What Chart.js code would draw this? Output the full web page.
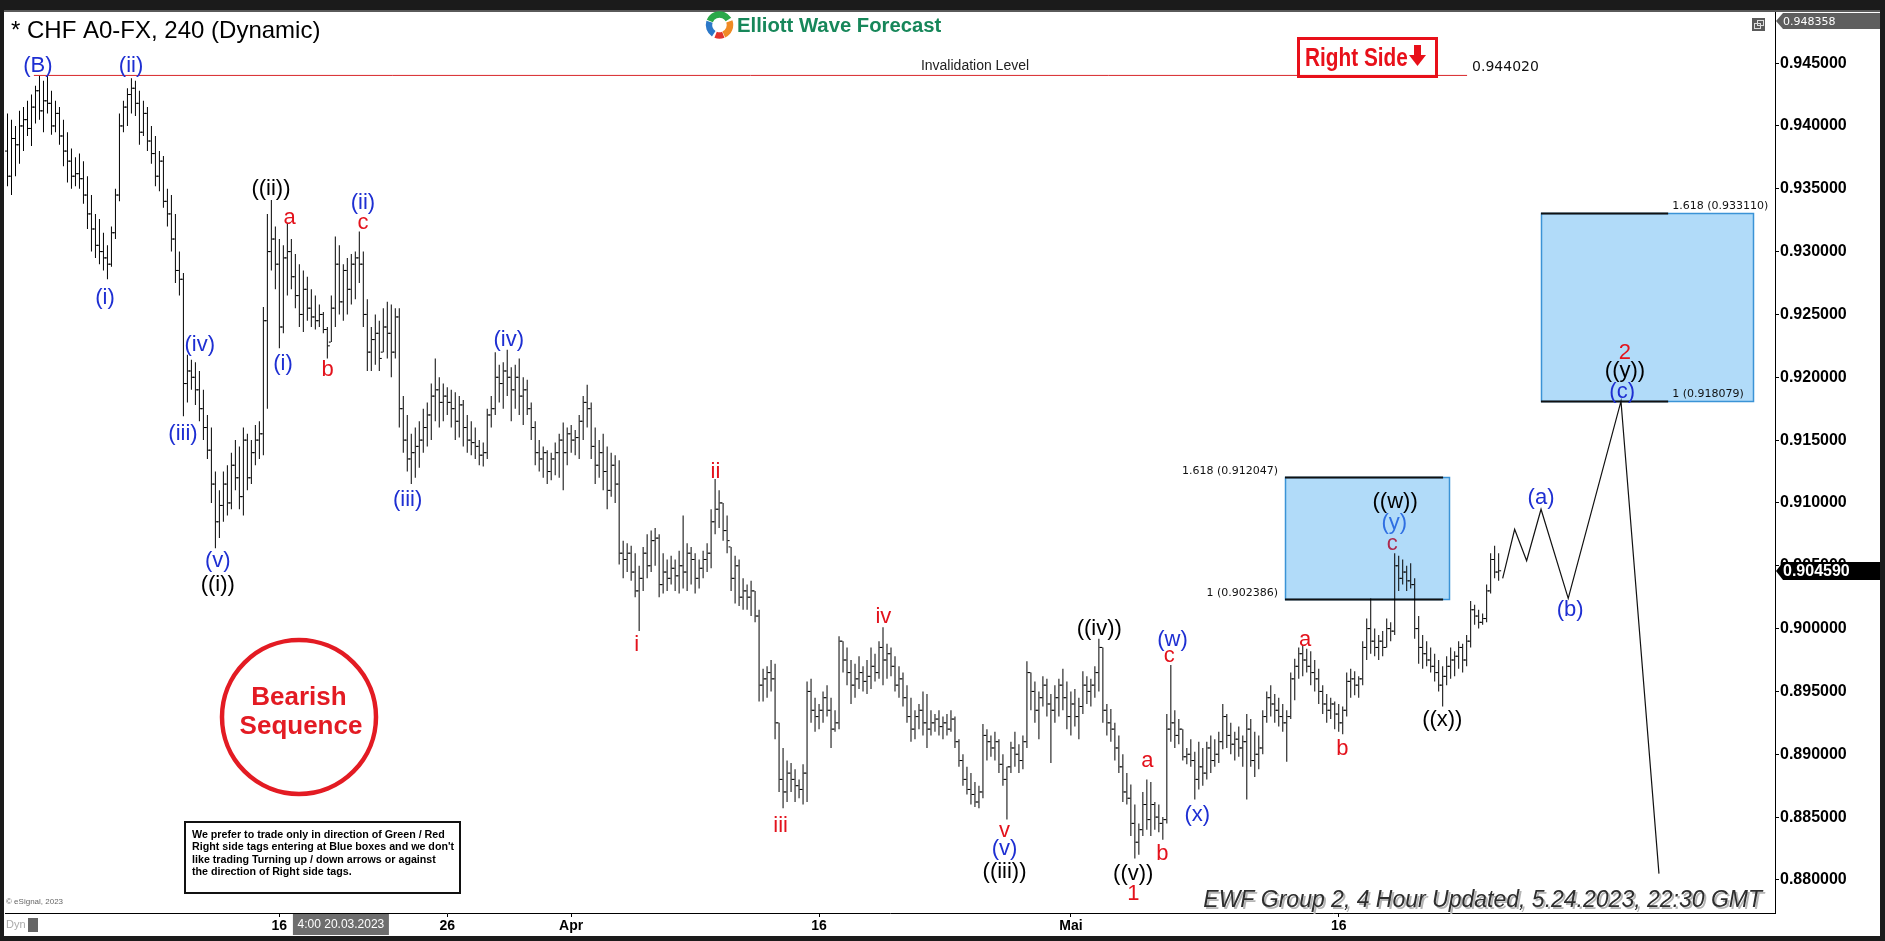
<!DOCTYPE html>
<html>
<head>
<meta charset="utf-8">
<script src="https://cdn.jsdelivr.net/npm/chart.js@4.4.0/dist/chart.umd.min.js"></script>
<style>
html, body { margin: 0; padding: 0; background: #1b1b1b; overflow: hidden; }
canvas { display: block; }
</style>
</head>
<body>
<canvas id="cs" width="1885" height="941"></canvas>
<script>
// 4 hour bars, prices in 1/10000 (9412 = 0.9412)
var highs = [
  9410,9405,9400,9412,9415,9420,9425,9432,9440,9436,
  9440,9428,9420,9415,9405,9395,9382,9375,9378,9372,
  9360,9345,9330,9326,9315,9305,9320,9350,9410,9420,
  9430,9438,9436,9428,9420,9415,9400,9392,9380,9376,
  9350,9345,9330,9300,9283,9218,9214,9212,9205,9190,
  9170,9160,9125,9110,9125,9130,9140,9150,9145,9160,
  9155,9150,9162,9165,9256,9330,9341,9320,9310,9305,
  9323,9310,9298,9290,9285,9280,9270,9265,9258,9252,
  9240,9265,9312,9305,9290,9295,9298,9300,9316,9300,
  9262,9240,9250,9245,9255,9260,9258,9255,9255,9185,
  9170,9155,9160,9165,9175,9180,9195,9215,9200,9195,
  9192,9190,9188,9185,9182,9170,9165,9160,9150,9148,
  9175,9185,9220,9210,9212,9222,9208,9210,9215,9200,
  9198,9180,9165,9150,9145,9142,9140,9148,9155,9164,
  9160,9162,9158,9170,9185,9194,9180,9160,9150,9155,
  9145,9140,9138,9134,9070,9068,9066,9060,9050,9065,
  9075,9078,9080,9075,9060,9055,9058,9055,9062,9090,
  9068,9065,9060,9055,9062,9068,9095,9119,9110,9100,
  9090,9065,9058,9055,9040,9035,9038,9030,9015,8968,
  8970,8975,8972,8925,8905,8895,8893,8888,8880,8892,
  8958,8960,8945,8940,8950,8955,8945,8935,8994,8990,
  8985,8975,8972,8978,8970,8975,8985,8980,8990,9001,
  8988,8985,8978,8970,8965,8955,8945,8935,8940,8950,
  8948,8935,8932,8935,8930,8932,8935,8930,8912,8900,
  8890,8885,8878,8875,8924,8920,8915,8918,8912,8900,
  8890,8910,8918,8908,8915,8974,8965,8958,8950,8962,
  8960,8948,8955,8960,8968,8958,8950,8952,8945,8966,
  8962,8960,8970,8992,8985,8940,8936,8925,8915,8900,
  8885,8876,8860,8845,8870,8880,8878,8862,8860,8850,
  8932,8971,8935,8928,8920,8905,8912,8902,8910,8905,
  8910,8915,8912,8918,8940,8932,8925,8918,8922,8915,
  8932,8928,8918,8915,8935,8950,8955,8948,8945,8940,
  8935,8965,8976,8985,8987,8984,8982,8975,8968,8955,
  8948,8945,8942,8940,8938,8965,8968,8966,8962,8990,
  9008,9024,9000,8995,8998,9008,9005,9060,9058,9055,
  9050,9052,9040,9010,8995,8990,8985,8980,8975,8970,
  8978,8985,8982,8990,8988,8995,9022,9019,9015,9012,
  9035,9060,9066,9060
];
var lows = [
  9352,9345,9360,9370,9380,9392,9384,9402,9405,9395,
  9410,9393,9395,9385,9368,9355,9350,9352,9350,9338,
  9318,9300,9295,9290,9285,9278,9288,9310,9340,9395,
  9400,9410,9408,9385,9392,9380,9370,9352,9348,9335,
  9320,9300,9275,9265,9169,9180,9190,9178,9165,9150,
  9135,9100,9064,9072,9085,9090,9095,9110,9095,9090,
  9110,9115,9130,9135,9138,9175,9285,9270,9223,9235,
  9265,9270,9255,9240,9236,9245,9240,9238,9240,9235,
  9215,9228,9240,9250,9245,9250,9258,9262,9275,9240,
  9205,9205,9210,9205,9220,9215,9200,9215,9160,9140,
  9125,9115,9120,9128,9140,9145,9150,9165,9160,9165,
  9170,9160,9150,9152,9145,9140,9138,9135,9130,9129,
  9135,9160,9170,9180,9175,9185,9165,9175,9170,9162,
  9170,9150,9130,9125,9120,9115,9118,9122,9120,9110,
  9130,9140,9138,9135,9150,9160,9135,9115,9120,9110,
  9095,9105,9100,9051,9040,9045,9038,9025,8998,9030,
  9040,9045,9050,9025,9028,9030,9035,9030,9028,9032,
  9030,9035,9028,9032,9040,9045,9048,9075,9080,9070,
  9060,9030,9020,9018,9015,9015,9010,9005,8942,8942,
  8945,8950,8912,8870,8857,8862,8870,8862,8865,8860,
  8862,8925,8918,8920,8925,8930,8905,8918,8920,8965,
  8955,8940,8945,8952,8950,8948,8952,8958,8960,8955,
  8960,8962,8950,8945,8938,8925,8910,8912,8920,8915,
  8905,8915,8918,8915,8912,8915,8918,8905,8890,8875,
  8868,8860,8858,8857,8865,8895,8898,8895,8885,8875,
  8848,8885,8890,8885,8888,8905,8935,8925,8912,8938,
  8930,8893,8925,8930,8935,8920,8915,8922,8912,8932,
  8940,8938,8945,8950,8925,8915,8910,8895,8885,8862,
  8860,8835,8817,8820,8835,8840,8835,8840,8838,8832,
  8845,8910,8905,8908,8895,8892,8890,8864,8872,8875,
  8880,8885,8890,8893,8904,8905,8900,8895,8898,8890,
  8864,8890,8882,8888,8900,8925,8930,8925,8922,8918,
  8894,8928,8943,8960,8962,8965,8955,8950,8940,8932,
  8925,8928,8920,8918,8916,8930,8945,8947,8945,8955,
  8975,8980,8978,8975,8978,8985,8990,8995,9030,9035,
  9030,9032,8992,8972,8968,8970,8965,8958,8950,8938,
  8955,8960,8962,8968,8965,8970,8985,9003,9000,9003,
  9005,9028,9040,9038
];
var closes = [
  9360,9390,9385,9400,9405,9398,9415,9428,9412,9420,
  9418,9400,9410,9392,9380,9372,9360,9362,9358,9345,
  9330,9318,9305,9300,9295,9290,9315,9345,9400,9415,
  9425,9430,9418,9395,9410,9388,9378,9360,9372,9340,
  9330,9310,9285,9278,9195,9205,9200,9190,9175,9160,
  9142,9115,9085,9098,9115,9100,9130,9120,9105,9150,
  9120,9140,9150,9155,9245,9300,9310,9290,9240,9295,
  9300,9280,9265,9250,9270,9255,9248,9245,9250,9238,
  9225,9255,9290,9260,9285,9270,9290,9295,9290,9250,
  9220,9230,9235,9215,9240,9235,9220,9248,9175,9150,
  9135,9140,9145,9150,9160,9170,9185,9190,9180,9185,
  9180,9175,9165,9178,9160,9150,9148,9145,9138,9140,
  9170,9175,9200,9195,9205,9200,9190,9200,9185,9190,
  9175,9160,9140,9135,9140,9125,9135,9140,9150,9140,
  9155,9150,9152,9165,9180,9175,9145,9130,9140,9125,
  9110,9130,9115,9060,9055,9060,9045,9030,9040,9060,
  9050,9070,9072,9035,9045,9040,9048,9042,9050,9045,
  9060,9055,9040,9048,9055,9060,9085,9095,9100,9078,
  9070,9040,9050,9025,9030,9025,9030,9010,8955,8960,
  8965,8960,8925,8880,8870,8885,8880,8875,8872,8885,
  8950,8935,8930,8935,8945,8935,8920,8925,8990,8975,
  8965,8955,8960,8965,8958,8962,8970,8965,8985,8975,
  8980,8970,8955,8960,8945,8930,8920,8930,8935,8925,
  8920,8925,8928,8922,8925,8920,8928,8910,8895,8880,
  8872,8868,8862,8870,8915,8910,8905,8910,8892,8880,
  8890,8905,8900,8895,8910,8965,8950,8935,8945,8955,
  8940,8935,8945,8955,8945,8930,8940,8930,8938,8955,
  8950,8955,8965,8985,8935,8925,8920,8905,8890,8870,
  8865,8845,8830,8840,8860,8848,8860,8850,8845,8848,
  8920,8925,8915,8920,8898,8900,8895,8880,8890,8885,
  8905,8895,8900,8910,8930,8915,8908,8912,8905,8910,
  8920,8895,8900,8905,8930,8945,8940,8935,8930,8925,
  8930,8960,8970,8980,8975,8970,8965,8960,8950,8940,
  8935,8940,8932,8925,8935,8958,8960,8955,8960,8985,
  9000,8990,8985,8990,8985,9000,8998,9050,9040,9045,
  9038,9035,9000,8985,8980,8975,8970,8965,8955,8962,
  8970,8975,8978,8985,8975,8990,9015,9010,9005,9008,
  9030,9055,9045,9046
];
var firstOpen = 9380;

// x axis: bar index of the first bar of each labelled day
var dayTicks = [68, 110, 141, 203, 266, 333];
var dayLabels = ["16", "26", "Apr", "16", "Mai", "16"];

var yTicks = [0.880, 0.885, 0.890, 0.895, 0.900, 0.905, 0.910, 0.915, 0.920, 0.925, 0.930, 0.935, 0.940, 0.945];

// projected path (bar index, price)
var projX = [374, 377, 380, 383.6, 390.4, 403.6, 413.1];
var projY = [9040, 9079, 9054, 9095, 9024, 9181, 8805];

var invalidLevel = 0.944020;
var invalidFrom = 6.6, invalidTo = 365.1;

// fibonacci extension boxes
var fibStart = [319.6, 383.6];
var fibEnd = [360.6, 436.6];
var fibLineEnd = [359.1, 415.4];
var fibLow = [0.902386, 0.918079];
var fibHigh = [0.912047, 0.933110];

var lastPrice = 0.904590;
var topPrice = 0.948358;
var crossIdx = 83.4;

var yMax = 0.9490675, yMin = 0.8773681;
var xMin = -0.625, xMax = 442.125;

// wave labels: text, bar index, price (1/10000), colour
var waveLabels = [
  ["(B)", 7.6, 9448, "blue"], ["(ii)", 30.9, 9448, "blue"], ["(i)", 24.4, 9263, "blue"],
  ["(iv)", 48.1, 9226, "blue"], ["(iii)", 43.9, 9155, "blue"], ["(v)", 52.6, 9054, "blue"],
  ["((i))", 52.6, 9035, "black"], ["((ii))", 65.9, 9350, "black"], ["a", 70.6, 9327, "red"],
  ["(i)", 68.9, 9211, "blue"], ["b", 80.1, 9206, "red"], ["(ii)", 88.9, 9339, "blue"],
  ["c", 88.9, 9323, "red"], ["(iii)", 100.1, 9102, "blue"], ["(iv)", 125.4, 9230, "blue"],
  ["ii", 177.1, 9125, "red"], ["i", 157.4, 8987, "red"], ["iv", 219.1, 9009, "red"],
  ["iii", 193.4, 8843, "red"], ["v", 249.4, 8839, "red"], ["(v)", 249.4, 8825, "blue"],
  ["((iii))", 249.4, 8806, "black"], ["((iv))", 273.1, 9000, "black"], ["(w)", 291.4, 8991, "blue"],
  ["c", 290.6, 8978, "red"], ["a", 285.1, 8895, "red"], ["b", 288.9, 8821, "red"],
  ["((v))", 281.6, 8805, "black"], ["1", 281.6, 8789, "red"], ["(x)", 297.6, 8852, "blue"],
  ["a", 324.6, 8991, "red"], ["b", 333.9, 8904, "red"], ["((w))", 347.1, 9101, "black"],
  ["(y)", 346.9, 9084, "lblue"], ["c", 346.4, 9067, "maroon"], ["((x))", 358.9, 8927, "black"],
  ["(a)", 383.6, 9104, "blue"], ["(b)", 390.9, 9015, "blue"], ["2", 404.6, 9219, "red"],
  ["((y))", 404.6, 9205, "black"], ["(c)", 403.9, 9188, "blue"]
];
var labelColors = { blue: "#1e2fd2", lblue: "#2f6fe2", red: "#e3121c", black: "#000000", maroon: "#ad2a4e" };

var SANS = '"Liberation Sans", Arial, sans-serif';
var NARROW = '"Liberation Sans Narrow", "Arial Narrow", ' + SANS;

var barData = [], openPts = [], closePts = [];
for (var i = 0; i < highs.length; i++) {
  var op = i ? closes[i - 1] : firstOpen;
  op = Math.min(highs[i], Math.max(lows[i], op));
  barData.push({ x: i, y: [lows[i] / 1e4, highs[i] / 1e4] });
  openPts.push({ x: i - 0.375, y: op / 1e4 });
  closePts.push({ x: i + 0.375, y: closes[i] / 1e4 });
}
var projData = projX.map(function (x, k) { return { x: x, y: projY[k] / 1e4 }; });
var invalidData = [{ x: invalidFrom, y: invalidLevel }, { x: invalidTo, y: invalidLevel }];

var decor = {
  id: "decor",
  beforeDraw: function (chart) {
    var c = chart.ctx;
    c.save();
    c.fillStyle = "#1b1b1b";
    c.fillRect(0, 0, chart.width, chart.height);
    c.fillStyle = "#ffffff";
    c.fillRect(4, 12, 1876, 924);
    c.fillStyle = "#5a5a5a";
    c.fillRect(4, 10, 1876, 2);
    c.restore();
  },
  beforeDatasetsDraw: function (chart) {
    var c = chart.ctx, xs = chart.scales.x, ys = chart.scales.y;
    c.save();
    for (var k = 0; k < fibLow.length; k++) {
      var l = Math.round(xs.getPixelForValue(fibStart[k])), r = Math.round(xs.getPixelForValue(fibEnd[k]));
      var t = Math.round(ys.getPixelForValue(fibHigh[k])), b = Math.round(ys.getPixelForValue(fibLow[k]));
      var le = xs.getPixelForValue(fibLineEnd[k]);
      c.fillStyle = "#b1dbf9";
      c.fillRect(l, t, r - l, b - t);
      c.strokeStyle = "#3b93d6";
      c.lineWidth = 1.5;
      c.strokeRect(l + 0.5, t + 0.5, r - l, b - t);
      c.strokeStyle = "#111";
      c.lineWidth = 2;
      c.beginPath();
      c.moveTo(l, t + 0.5); c.lineTo(le, t + 0.5);
      c.moveTo(l, b + 0.5); c.lineTo(le, b + 0.5);
      c.stroke();
      c.fillStyle = "#111";
      c.font = '11px "DejaVu Sans", sans-serif';
      c.textBaseline = "middle";
      var t1 = "1.618 (" + fibHigh[k].toFixed(6) + ")", t2 = "1 (" + fibLow[k].toFixed(6) + ")";
      if (k === 0) {
        c.textAlign = "right";
        c.fillText(t1, l - 7, t - 6);
        c.fillText(t2, l - 7, b - 6);
      } else {
        c.textAlign = "left";
        c.fillText(t1, le + 4, t - 7);
        c.fillText(t2, le + 4, b - 7);
      }
    }
    c.restore();
  },
  afterDatasetsDraw: function (chart) {
    var c = chart.ctx, xs = chart.scales.x, ys = chart.scales.y;
    c.save();
    c.textAlign = "center";
    c.textBaseline = "middle";
    c.font = "22px " + SANS;
    waveLabels.forEach(function (w) {
      c.fillStyle = labelColors[w[3]];
      c.fillText(w[0], xs.getPixelForValue(w[1]), ys.getPixelForValue(w[2] / 1e4));
    });

    // invalidation texts
    var iy = ys.getPixelForValue(invalidLevel);
    c.fillStyle = "#222";
    c.font = "14px " + SANS;
    c.textBaseline = "alphabetic";
    c.fillText("Invalidation Level", 975, iy - 5);
    c.textAlign = "left";
    c.font = '14px "DejaVu Sans", sans-serif';
    c.fillStyle = "#111";
    c.fillText(invalidLevel.toFixed(6), xs.getPixelForValue(invalidTo) + 5, iy - 4);
    c.restore();
  },
  afterDraw: function (chart) {
    var c = chart.ctx, ys = chart.scales.y, xs = chart.scales.x;
    c.save();

    // title
    c.fillStyle = "#000";
    c.font = "24px " + SANS;
    c.textBaseline = "middle";
    c.textAlign = "left";
    c.fillText("* CHF A0-FX, 240 (Dynamic)", 11, 31);

    // logo
    var lx = 719.5, ly = 25;
    c.lineWidth = 6.5;
    [["#2aa84a", -2.75, -0.55], ["#f08a24", -0.35, 1.15], ["#e2342c", 1.2, 1.95], ["#2b78c8", 2.15, 3.45]].forEach(function (a) {
      c.strokeStyle = a[0];
      c.beginPath();
      c.arc(lx, ly, 10.5, a[1], a[2]);
      c.stroke();
    });
    c.fillStyle = "#17875a";
    c.font = "bold 20.3px " + SANS;
    c.fillText("Elliott Wave Forecast", 737, 26);

    // right side tag
    c.strokeStyle = "#e8101a";
    c.lineWidth = 3;
    c.strokeRect(1298.5, 38.5, 138, 38);
    c.fillStyle = "#e8101a";
    c.save();
    c.translate(1305, 66);
    c.scale(0.8, 1);
    c.font = "bold 26px " + SANS;
    c.textBaseline = "alphabetic";
    c.fillText("Right Side", 0, 0);
    c.restore();
    c.fillRect(1414, 45, 7, 11);
    c.beginPath();
    c.moveTo(1409, 55); c.lineTo(1426, 55); c.lineTo(1417.5, 66); c.closePath();
    c.fill();

    // bearish sequence
    c.strokeStyle = "#e31b23";
    c.lineWidth = 4.5;
    c.beginPath();
    c.arc(299, 717, 77, 0, Math.PI * 2);
    c.stroke();
    c.fillStyle = "#e31b23";
    c.font = "bold 26px " + SANS;
    c.textAlign = "center";
    c.fillText("Bearish", 299, 698);
    c.fillText("Sequence", 301, 727);

    // disclaimer
    c.strokeStyle = "#111";
    c.lineWidth = 2;
    c.strokeRect(185, 822, 275, 71);
    c.fillStyle = "#000";
    c.font = "bold 10.7px " + SANS;
    c.textAlign = "left";
    ["We prefer to trade only in direction of Green / Red",
     "Right side tags entering at Blue boxes and we don't",
     "like trading Turning up / down arrows or against",
     "the direction of Right side tags."].forEach(function (s, k) {
      c.fillText(s, 192, 835 + k * 12.3);
    });

    // footer
    c.font = "italic 23px " + SANS;
    c.textAlign = "right";
    c.textBaseline = "alphabetic";
    c.fillStyle = "#b5b5b5";
    c.fillText("EWF Group 2, 4 Hour Updated, 5.24.2023, 22:30 GMT", 1764, 909);
    c.fillStyle = "#2e2e2e";
    c.fillText("EWF Group 2, 4 Hour Updated, 5.24.2023, 22:30 GMT", 1762, 907);

    c.textAlign = "left";
    c.fillStyle = "#666";
    c.font = "8px " + SANS;
    c.fillText("\u00a9 eSignal, 2023", 6, 904);
    c.fillStyle = "#aaa";
    c.font = "11px " + SANS;
    c.textBaseline = "middle";
    c.fillText("Dyn", 6, 925);
    c.fillStyle = "#666";
    c.fillRect(28, 918, 10, 14);

    // crosshair date box
    var cx = xs.getPixelForValue(crossIdx);
    c.fillStyle = "#6e6e6e";
    c.fillRect(cx - 48, 914, 96, 21);
    c.fillStyle = "#fff";
    c.font = "12px " + NARROW;
    c.textAlign = "center";
    c.fillText("4:00 20.03.2023", cx, 925);

    // price tags on the axis
    var ax = chart.chartArea.right;
    function tag(v, bg, font, h) {
      var y = ys.getPixelForValue(v);
      c.fillStyle = bg;
      c.beginPath();
      c.moveTo(ax + 1, y);
      c.lineTo(ax + 8, y - h / 2);
      c.lineTo(1880, y - h / 2);
      c.lineTo(1880, y + h / 2);
      c.lineTo(ax + 8, y + h / 2);
      c.closePath();
      c.fill();
      c.fillStyle = "#fff";
      c.font = font;
      c.textAlign = "left";
      c.textBaseline = "middle";
      c.fillText(v.toFixed(6), ax + 8, y + 1);
    }
    tag(topPrice, "#5e5e5e", '11px "DejaVu Sans", sans-serif', 16);
    tag(lastPrice, "#000", "bold 16px " + SANS, 18);

    // window icon
    c.fillStyle = "#5a5a5a";
    c.fillRect(1752, 18, 13, 13);
    c.strokeStyle = "#ddd";
    c.lineWidth = 1;
    c.strokeRect(1754.5, 23.5, 6, 5);
    c.strokeRect(1757.5, 20.5, 6, 5);
    c.restore();
  }
};

var ctx = document.getElementById("cs");
new Chart(ctx, {
  type: "bar",
  data: {
    datasets: [
      { type: "line", data: invalidData, borderColor: "#d8262a", borderWidth: 1, pointRadius: 0, tension: 0 },
      { type: "line", data: projData, borderColor: "#111", borderWidth: 1.2, pointRadius: 0, tension: 0 },
      { type: "line", data: openPts, showLine: false, pointStyle: "line", pointRadius: 1, pointBorderWidth: 1, pointBorderColor: "#000" },
      { type: "line", data: closePts, showLine: false, pointStyle: "line", pointRadius: 1, pointBorderWidth: 1, pointBorderColor: "#000" },
      { type: "bar", data: barData, backgroundColor: "#000", barThickness: 1, inflateAmount: 0, grouped: false, borderWidth: 0 }
    ]
  },
  options: {
    responsive: false,
    animation: false,
    events: [],
    layout: { padding: { left: 4, top: 12, right: 5, bottom: 6 } },
    plugins: { legend: { display: false }, tooltip: { enabled: false } },
    scales: {
      x: {
        type: "linear", min: xMin, max: xMax, offset: false,
        grid: { display: true, drawOnChartArea: false, tickLength: 4, color: "#000", offset: false },
        border: { display: true, color: "#000", width: 1 },
        afterBuildTicks: function (s) { s.ticks = dayTicks.map(function (v) { return { value: v }; }); },
        afterFit: function (s) { s.height = 22; },
        ticks: {
          autoSkip: false, maxRotation: 0, padding: 1, color: "#000",
          font: { family: NARROW, size: 14, weight: "bold" },
          callback: function (v, k) { return dayLabels[k]; }
        }
      },
      y: {
        type: "linear", position: "right", min: yMin, max: yMax,
        grid: { drawOnChartArea: false, tickLength: 4, color: "#000" },
        border: { display: true, color: "#000", width: 1 },
        afterBuildTicks: function (s) { s.ticks = yTicks.map(function (v) { return { value: v }; }); },
        afterFit: function (s) { s.width = 105; },
        ticks: {
          padding: 1, color: "#000",
          font: { family: SANS, size: 16, weight: "bold" },
          callback: function (v) { return v.toFixed(6); }
        }
      }
    }
  },
  plugins: [decor]
});
</script>
</body>
</html>
